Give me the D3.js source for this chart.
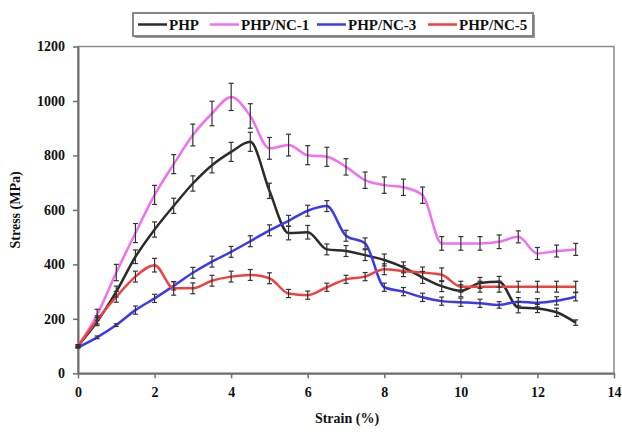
<!DOCTYPE html>
<html lang="en">
<head>
<meta charset="utf-8">
<title>Stress - Strain</title>
<script src="https://d3js.org/d3.v7.min.js"></script>
<style>
  body { margin: 0; background: #fff; }
  text { font-family: "Liberation Serif", "Times New Roman", serif; font-weight: bold; fill: #111; }
</style>
</head>
<body>
<svg width="622" height="432"></svg>
<script>
// strain values (%), one point every 0.5
const strain = [0,0.5,1,1.5,2,2.5,3,3.5,4,4.5,5,5.5,6,6.5,7,7.5,8,8.5,9,9.5,10,10.5,11,11.5,12,12.5,13];

// stress (MPa) per series
const php  = [100,190,300,428,528,615,697,764,813,850,670,515,518,455,449,434,416,389,352,320,303,332,336,242,238,224,186];
const nc1  = [100,215,370,515,655,768,875,954,1015,945,826,838,801,795,758,709,691,683,654,477,477,477,483,501,440,449,455];
const nc3  = [95,132,177,232,275,321,369,410,446,485,525,560,597,614,505,477,316,300,279,265,261,257,251,263,259,266,281];
const nc5  = [100,196,281,355,397,312,312,340,355,361,349,293,287,316,345,355,382,375,370,362,318,318,318,318,318,318,318];

// error bar half lengths (MPa)
const phpErr = [5,15,20,25,28,28,28,28,35,35,28,25,25,20,20,20,22,20,22,20,22,20,20,20,15,15,10];
const nc1Err = [5,20,30,35,35,35,40,45,50,45,40,40,35,35,30,30,30,30,30,25,25,25,25,22,22,22,22];
const nc3Err = [3,5,5,15,15,15,20,20,20,20,20,20,20,20,20,20,15,15,15,15,15,15,12,15,15,15,15];
const nc5Err = [3,15,20,20,25,25,20,20,20,20,20,15,15,15,15,15,20,20,20,25,20,20,20,20,20,20,20];

const seriesNames = ["PHP", "PHP/NC-1", "PHP/NC-3", "PHP/NC-5"];
const xTicks = [0,2,4,6,8,10,12,14];
const yTicks = [0,200,400,600,800,1000,1200];

const series = [
  { name: seriesNames[0], values: php, err: phpErr, color: "#2b2b2b" },
  { name: seriesNames[1], values: nc1, err: nc1Err, color: "#f070f0" },
  { name: seriesNames[2], values: nc3, err: nc3Err, color: "#3a3aee" },
  { name: seriesNames[3], values: nc5, err: nc5Err, color: "#f04040" }
];

const svg = d3.select("svg");

const x = d3.scaleLinear().domain([0, 14]).range([78, 614]);
const y = d3.scaleLinear().domain([0, 1200]).range([373.3, 46.5]);

// plot area frame (top / right)
svg.append("rect")
  .attr("x", x(0)).attr("y", y(1200))
  .attr("width", x(14) - x(0)).attr("height", y(0) - y(1200))
  .attr("fill", "none")
  .attr("stroke", "#8a8a8a")
  .attr("stroke-width", 1.5);

// axes
const xAxis = svg.append("g")
  .attr("transform", "translate(0," + y(0) + ")")
  .call(d3.axisBottom(x).tickValues(xTicks).tickFormat(d3.format("d"))
    .tickSize(5).tickSizeOuter(0).tickPadding(9));
const yAxis = svg.append("g")
  .attr("transform", "translate(" + x(0) + ",0)")
  .call(d3.axisLeft(y).tickValues(yTicks).tickFormat(d3.format("d"))
    .tickSize(5).tickSizeOuter(0).tickPadding(8));

[xAxis, yAxis].forEach(a => {
  a.select(".domain").attr("stroke", "#6e6e6e").attr("stroke-width", 2);
  a.selectAll(".tick line").attr("stroke", "#6e6e6e").attr("stroke-width", 1.5);
  a.selectAll(".tick text").style("font-size", "14px").style("font-family", "Liberation Serif, serif")
    .style("font-weight", "bold").attr("fill", "#111");
});

// axis titles
svg.append("text")
  .attr("x", (x(0) + x(14)) / 2 + 1)
  .attr("y", 423)
  .attr("text-anchor", "middle")
  .style("font-size", "14px")
  .text("Strain (%)");

svg.append("text")
  .attr("transform", "translate(20," + y(600) + ") rotate(-90)")
  .attr("text-anchor", "middle")
  .style("font-size", "14px")
  .text("Stress (MPa)");

// lines
const line = d3.line()
  .x((d, i) => x(strain[i]))
  .y(d => y(d))
  .curve(d3.curveMonotoneX);

series.forEach(s => {
  svg.append("path")
    .datum(s.values)
    .attr("fill", "none")
    .attr("stroke", s.color)
    .attr("stroke-width", 2.5)
    .attr("stroke-linejoin", "round")
    .attr("d", line);
});

// error bars
series.forEach(s => {
  const g = svg.append("g").attr("stroke", "#333").attr("stroke-width", 1.2);
  s.values.forEach((v, i) => {
    const cx = x(strain[i]);
    const lo = y(v - s.err[i]), hi = y(v + s.err[i]);
    g.append("line").attr("x1", cx).attr("x2", cx).attr("y1", lo).attr("y2", hi);
    g.append("line").attr("x1", cx - 2.5).attr("x2", cx + 2.5).attr("y1", lo).attr("y2", lo);
    g.append("line").attr("x1", cx - 2.5).attr("x2", cx + 2.5).attr("y1", hi).attr("y2", hi);
  });
});

// legend
const legend = svg.append("g");
legend.append("rect")
  .attr("x", 135).attr("y", 15).attr("width", 400).attr("height", 23)
  .attr("fill", "#9a9a9a");
legend.append("rect")
  .attr("x", 133).attr("y", 13).attr("width", 400).attr("height", 23)
  .attr("fill", "#fff")
  .attr("stroke", "#7a7a7a")
  .attr("stroke-width", 1.8);

const legendPos = [138, 210, 317, 428];
series.forEach((s, i) => {
  const lx = legendPos[i];
  legend.append("line")
    .attr("x1", lx).attr("x2", lx + 29)
    .attr("y1", 24.5).attr("y2", 24.5)
    .attr("stroke", s.color)
    .attr("stroke-width", 2.5);
  legend.append("text")
    .attr("x", lx + 31)
    .attr("y", 29.5)
    .style("font-size", "15px")
    .text(s.name);
});
</script>
</body>
</html>
